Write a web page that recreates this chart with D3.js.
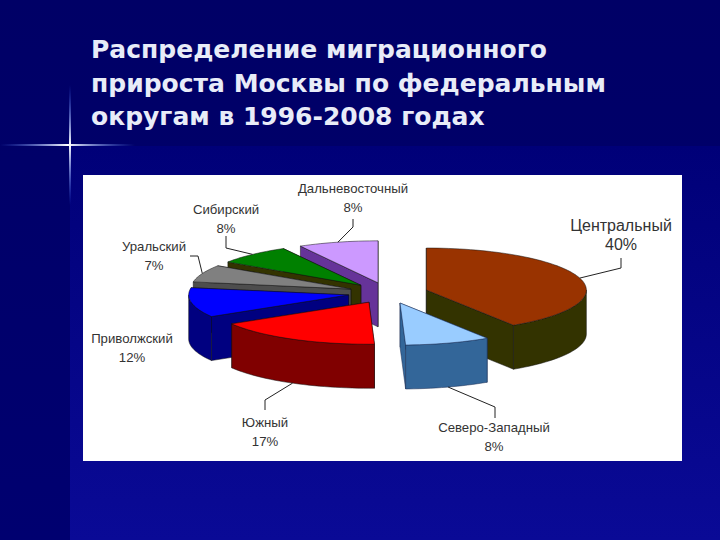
<!DOCTYPE html>
<html>
<head>
<meta charset="utf-8">
<script src="https://cdn.jsdelivr.net/npm/d3@7"></script>
<style>
    html, body { margin: 0; padding: 0; background: #000066; }
    svg { display: block; }
</style>
</head>
<body>
<div class="chart"></div>
<script>
const districts = ["Центральный", "Северо-Западный", "Южный", "Приволжский", "Уральский", "Сибирский", "Дальневосточный"];
const shares = [40, 8, 17, 12, 7, 8, 8];
const titleLines = ["Распределение миграционного", "прироста Москвы по федеральным", "округам в 1996-2008 годах"];

// styles, same order as districts
const topColors = ["#993300", "#99ccff", "#ff0000", "#0000ff", "#808080", "#008000", "#cc99ff"];
const wallColors = ["#333300", "#336699", "#800000", "#000080", "#4d4d4d", "#333300", "#663399"];
const labelX = [621, 494, 265, 132, 154, 226, 353];
const labelY = [231, 432, 427, 343, 251, 214, 193];
const labelSize = [16, 13.2, 13.2, 13.2, 13.2, 13.2, 13.2];
const elbows = [
    [[621, 268], [621, 258]],
    [[495, 407], [495, 418]],
    [[265, 400], [265, 410]],
    [],
    [[198, 256], [190, 256]],
    [[226, 248], [226, 236]],
    [[353, 227], [353, 219]]
];

const width = 720;
const height = 540;
const depth = 44;
const explode = 0.25;

const svg = d3.select(".chart")
    .append("svg")
    .attr("width", width)
    .attr("height", height);

const defs = svg.append("defs");

function linear(id, x2, y2, stops) {
    let g = defs.append("linearGradient")
        .attr("id", id)
        .attr("x1", 0).attr("y1", 0)
        .attr("x2", x2).attr("y2", y2);
    stops.forEach(s => g.append("stop")
        .attr("offset", s[0])
        .attr("stop-color", s[1])
        .attr("stop-opacity", s[2]));
}

linear("leftBg", 0, 1, [[0, "#000066", 1], [1, "#000070", 1]]);
linear("mainBg", 0, 1, [[0, "#000078", 1], [1, "#0a0a96", 1]]);
linear("flareH", 1, 0, [[0, "#4d7dff", 0], [0.5, "#ffffff", 1], [1, "#4d7dff", 0]]);
linear("flareV", 0, 1, [[0, "#3366ff", 0], [0.5, "#ffffff", 1], [1, "#3366ff", 0]]);

// background
svg.append("rect").attr("width", width).attr("height", height).attr("fill", "url(#leftBg)");
svg.append("rect").attr("x", 70).attr("y", 146).attr("width", 650).attr("height", 394).attr("fill", "url(#mainBg)");

// flare
svg.append("rect").attr("x", 0).attr("y", 144).attr("width", 135).attr("height", 2).attr("fill", "url(#flareH)");
svg.append("rect").attr("x", 69).attr("y", 85).attr("width", 2).attr("height", 120).attr("fill", "url(#flareV)");

svg.append("g")
    .selectAll("text")
    .data(titleLines)
    .enter()
    .append("text")
    .attr("x", 91)
    .attr("y", (d, i) => 58 + i * 33.5)
    .attr("font-family", "DejaVu Sans")
    .attr("font-weight", "bold")
    .attr("font-size", "25px")
    .attr("fill", "#e8ecf8")
    .text(d => d);

// white plot panel
svg.append("rect")
    .attr("x", 83).attr("y", 175)
    .attr("width", 599).attr("height", 286)
    .attr("fill", "#ffffff");

// pie
const pie = d3.pie().value(d => d).sort(null);
const arcs = pie(shares);

// angles are bent a bit by the perspective of the original 3D view
const viewAngle = d3.scaleLinear()
    .domain([0, 144, 172.8, 234, 331.2, 360])
    .range([0, 147, 178, 239, 331, 360]);

const xScale = d3.scaleLinear().domain([-1, 1]).range([388 - 160, 388 + 160]);
const yScale = d3.scaleLinear().domain([-1, 1]).range([293 - 42, 293 + 42]);

function rad(a) {
    return a * Math.PI / 180;
}

// a is in view degrees, r in pie radii
function rim(a, r, ox, oy) {
    return [xScale(ox + r * Math.sin(rad(a))), yScale(oy - r * Math.cos(rad(a)))];
}

function down(p) {
    return [p[0], p[1] + depth];
}

const slices = arcs.map((d, i) => {
    let a0 = viewAngle(d.startAngle * 180 / Math.PI);
    let a1 = viewAngle(d.endAngle * 180 / Math.PI);
    let mid = (a0 + a1) / 2;
    let ox = explode * Math.sin(rad(mid));
    let oy = -explode * Math.cos(rad(mid));
    return { i: i, a0: a0, a1: a1, mid: mid, ox: ox, oy: oy, apex: rim(0, 0, ox, oy) };
});

const line = d3.line();
const plot = svg.append("g");

function face(pts, color, i) {
    plot.append("path")
        .attr("d", line(pts) + "Z")
        .attr("fill", color)
        .attr("stroke", i == 1 ? "#1a2a50" : "#111111")
        .attr("stroke-width", 0.5)
        .attr("stroke-linejoin", "round");
}

// back slices first
slices.slice().sort((a, b) => a.apex[1] - b.apex[1]).forEach(s => {
    let wall = wallColors[s.i];
    let p0 = rim(s.a0, 1, s.ox, s.oy);
    let p1 = rim(s.a1, 1, s.ox, s.oy);

    let cuts = [
        [s.apex, p0, down(p0), down(s.apex)],
        [s.apex, p1, down(p1), down(s.apex)]
    ].sort((a, b) => a[1][1] - b[1][1]);
    cuts.forEach(c => face(c, wall, s.i));

    let from = Math.max(s.a0, 90);
    let to = Math.min(s.a1, 270);
    if (from < to) {
        let rimPts = d3.range(from, to, 2).concat([to]).map(a => rim(a, 1, s.ox, s.oy));
        face(rimPts.concat(rimPts.map(down).reverse()), wall, s.i);
    }

    let topPts = d3.range(s.a0, s.a1, 2).concat([s.a1]).map(a => rim(a, 1, s.ox, s.oy));
    face([s.apex].concat(topPts), topColors[s.i], s.i);
});

// leader lines
slices.forEach(s => {
    let bend = elbows[s.i];
    if (bend.length == 0) return;
    let start = rim(s.mid, 1, s.ox, s.oy);
    if (s.mid > 90 && s.mid < 270) start = down(start);
    plot.append("path")
        .attr("d", line([start].concat(bend)))
        .attr("fill", "none")
        .attr("stroke", "#222222")
        .attr("stroke-width", 1);
});

// labels
const labels = svg.append("g")
    .selectAll("text")
    .data(districts)
    .enter()
    .append("text")
    .attr("text-anchor", "middle")
    .attr("font-family", "Liberation Sans")
    .attr("font-size", (d, i) => labelSize[i] + "px")
    .attr("fill", "#333333");

labels.append("tspan")
    .attr("x", (d, i) => labelX[i])
    .attr("y", (d, i) => labelY[i])
    .text(d => d);

labels.append("tspan")
    .attr("x", (d, i) => labelX[i])
    .attr("dy", 18.5)
    .text((d, i) => shares[i] + "%");
</script>
</body>
</html>
